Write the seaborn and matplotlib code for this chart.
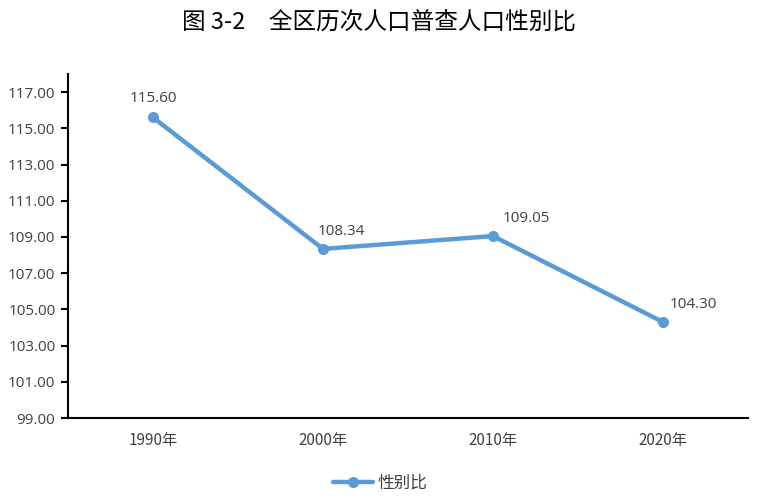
import seaborn as sns
import matplotlib.pyplot as plt
import pandas as pd

sns.set_style('white')
plt.rcParams['font.family'] = ['Noto Sans CJK SC', 'DejaVu Sans']
plt.rcParams['axes.unicode_minus'] = False

# 数据
years = ['1990年', '2000年', '2010年', '2020年']
sex_ratio = [115.60, 108.34, 109.05, 104.30]
yticks = [99, 101, 103, 105, 107, 109, 111, 113, 115, 117]

df = pd.DataFrame({'年份': years, '性别比': sex_ratio})
df['x'] = range(len(years))

num_font = ['Open Sans', 'Noto Sans CJK SC']

fig = plt.figure(figsize=(7.58, 4.99), dpi=100)
ax = fig.add_axes([0.0897, 0.1623, 0.8971, 0.6894])

sns.lineplot(data=df, x='x', y='性别比', marker='o', color='#5B9BD5',
             linewidth=3.2, markersize=8, markeredgewidth=0, label='性别比', ax=ax)

# 数据标签
offsets = [(0, 8), (13, 7), (24, 7), (22, 7)]
for xi, v, (dx, dy) in zip(df['x'], sex_ratio, offsets):
    ax.annotate(f'{v:.2f}', (xi, v), xytext=(dx, dy), textcoords='offset points',
                ha='center', va='bottom', fontsize=11, color='#404040', family=num_font)

ax.set_xlim(-0.5, 3.5)
ax.set_ylim(99, 118)
ax.set_yticks(yticks)
ax.set_yticklabels([f'{t:.2f}' for t in yticks], fontsize=11, color='#404040', family=num_font)
ax.set_xticks(range(len(years)))
ax.set_xticklabels(years, fontsize=11, color='#404040')
ax.set_xticks([-0.5, 0.5, 1.5, 2.5, 3.5], minor=True)
ax.tick_params(axis='x', which='major', length=0, pad=10)
ax.tick_params(axis='x', which='minor', length=5, width=1.5, color='black', direction='out')
ax.tick_params(axis='y', length=5, width=1.5, color='black', direction='out', left=True, pad=4)
ax.set_xlabel('')
ax.set_ylabel('')

for s in ['top', 'right']:
    ax.spines[s].set_visible(False)
for s in ['left', 'bottom']:
    ax.spines[s].set_color('black')
    ax.spines[s].set_linewidth(1.5)

fig.text(0.5, 0.955, '图 3-2　全区历次人口普查人口性别比', ha='center', va='center',
         fontsize=17, color='black', fontweight='medium')

leg = ax.legend(loc='center', bbox_to_anchor=(0.459, -0.19), frameon=False,
                fontsize=12, handlelength=2.4, handletextpad=0.3)
for t in leg.get_texts():
    t.set_color('#404040')

fig.savefig('out.png', dpi=100)
